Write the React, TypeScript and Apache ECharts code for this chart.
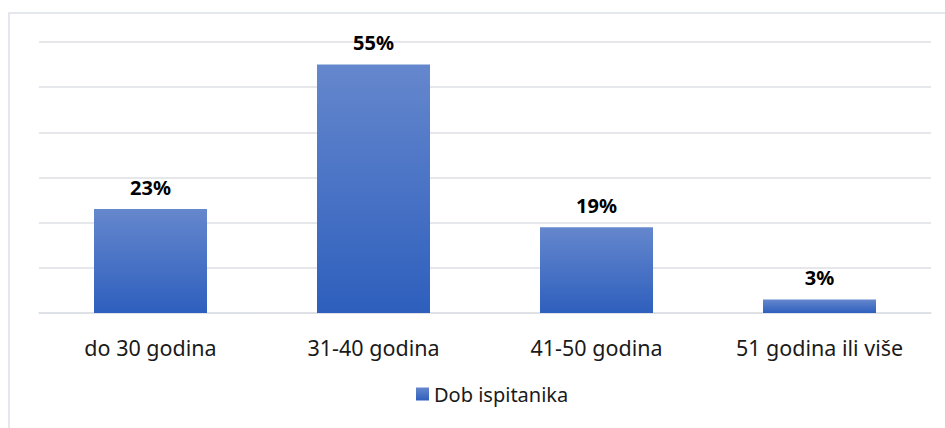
import React, { useEffect, useRef } from "react";
import * as echarts from "echarts";

const categories = ["do 30 godina", "31-40 godina", "41-50 godina", "51 godina ili više"];
const values = [23, 55, 19, 3];
const seriesName = "Dob ispitanika";

export default function App() {
  const ref = useRef<HTMLDivElement>(null);
  useEffect(() => {
    const chart = echarts.init(ref.current!, undefined, { renderer: "svg" });
    const font = "'Noto Sans', 'Open Sans', sans-serif";
    const grad = new echarts.graphic.LinearGradient(0, 0, 0, 1, [
      { offset: 0, color: "#6587cd" },
      { offset: 1, color: "#2e5fbd" },
    ]);
    chart.setOption({
      animation: false,
      backgroundColor: "#ffffff",
      graphic: [
        {
          type: "rect",
          shape: { x: 9, y: 13, width: 1000, height: 1000 },
          style: { fill: "none", stroke: "#dcdfe5", lineWidth: 1.5 },
          silent: true,
        },
      ],
      grid: { left: 39, right: 14, top: 42, bottom: 115 },
      legend: {
        bottom: 19,
        left: 411,
        itemWidth: 13,
        itemHeight: 13,
        itemGap: 8,
        icon: "rect",
        textStyle: { fontFamily: font, fontSize: 20, color: "#1a1a1a" },
        data: [seriesName],
      },
      xAxis: {
        type: "category",
        data: categories,
        axisLine: { lineStyle: { color: "#dcdfe5", width: 1.5 } },
        axisTick: { show: false },
        axisLabel: { fontFamily: font, fontSize: 21.5, color: "#1a1a1a", margin: 23 },
      },
      yAxis: {
        type: "value",
        min: 0,
        max: 60,
        interval: 10,
        axisLabel: { show: false },
        axisLine: { show: false },
        axisTick: { show: false },
        splitLine: { lineStyle: { color: "#dcdfe5", width: 1.5 } },
      },
      series: [
        {
          name: seriesName,
          type: "bar",
          data: values,
          barWidth: 113,
          itemStyle: { color: grad },
          label: {
            show: true,
            position: "top",
            distance: 12,
            formatter: "{c}%",
            fontFamily: font,
            fontSize: 20,
            fontWeight: "bold",
            color: "#000000",
          },
        },
      ],
    });
    return () => chart.dispose();
  }, []);
  return (
    <div
      ref={ref}
      style={{ position: "fixed", left: 0, top: 0, width: 945, height: 428 }}
    />
  );
}
